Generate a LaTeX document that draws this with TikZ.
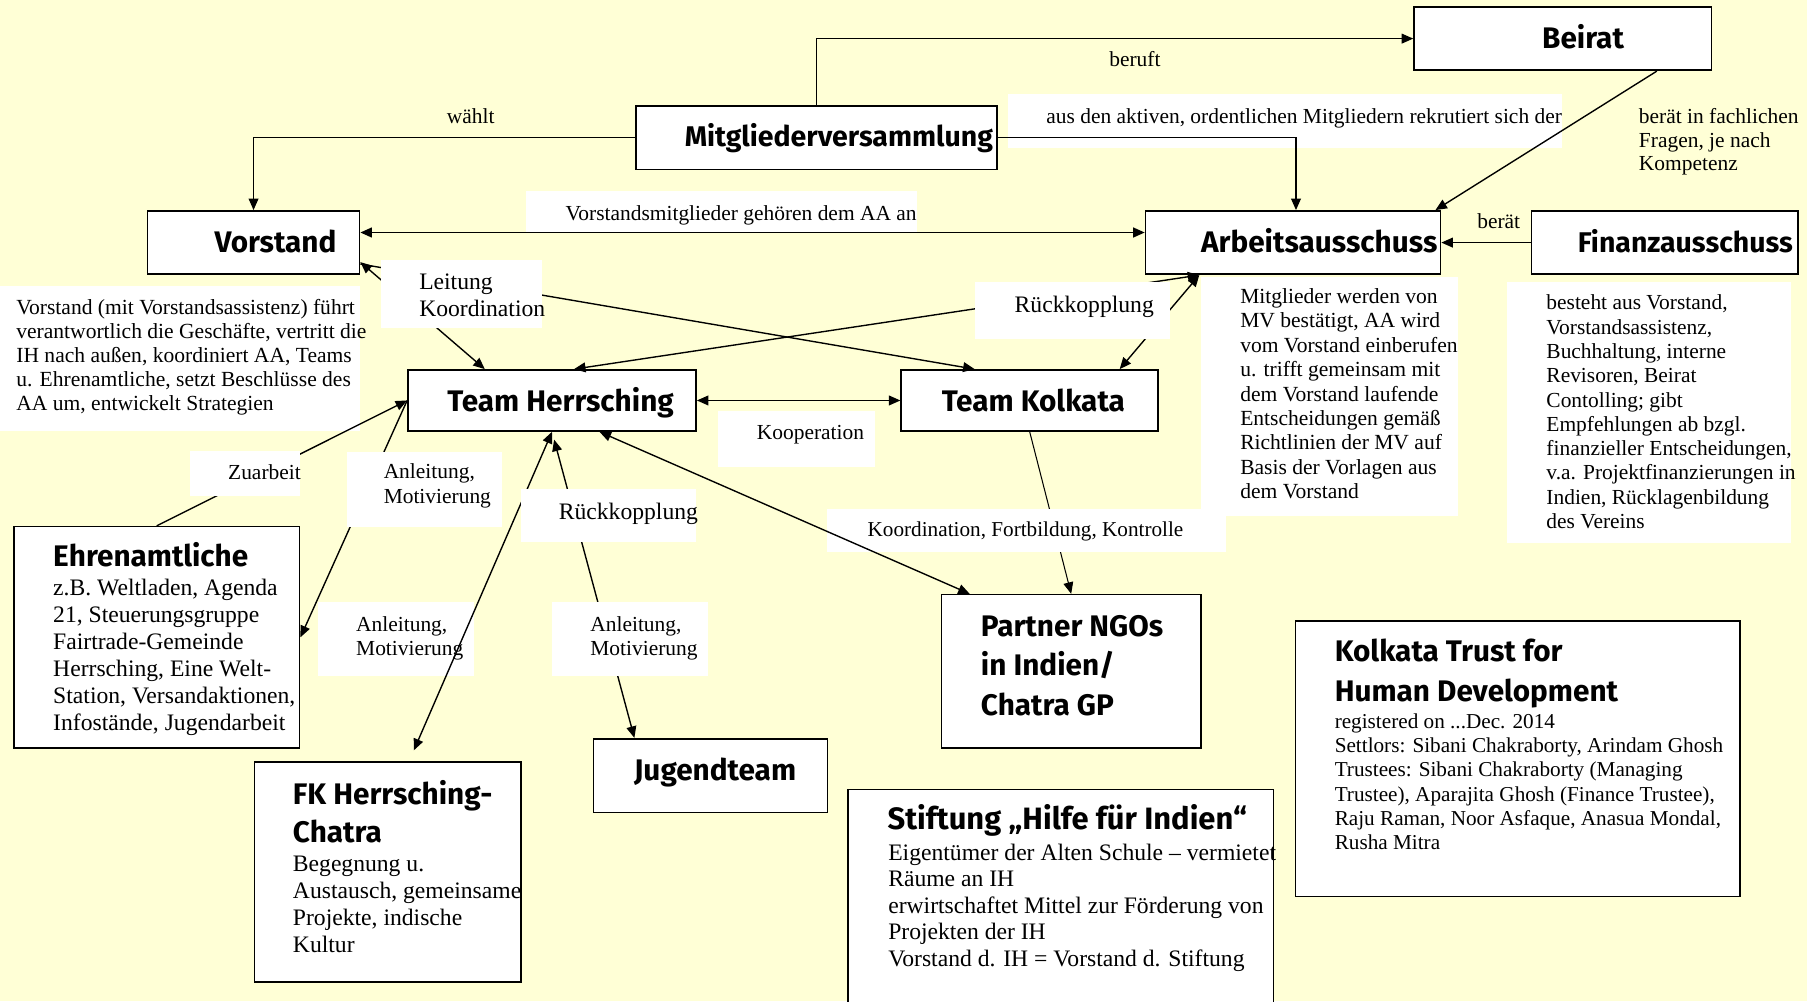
\documentclass[tikz,border=0pt]{standalone}
\usepackage{fontspec}
\setmainfont{Liberation Serif}
\newfontfamily\hdfont{Fira Sans}
\usetikzlibrary{arrows.meta,calc,fit}
\definecolor{bgyellow}{RGB}{255,255,214}
\tikzset{
  >={Triangle[length=10pt,width=8.5pt]},
  box/.style={draw=black, line width=1.4pt, fill=white, inner sep=0pt},
  wbox/.style={fill=white, draw=none, inner sep=0pt},
  arr/.style={line width=1.2pt, ->},
  darr/.style={line width=1.2pt, <->},
  hd/.style={anchor=base west, inner sep=0pt, align=left, font=\hdfont\bfseries\fontsize{25.8}{34}\selectfont},
  hdn/.style={hd, font=\hdfont\bfseries\fontsize{24.7}{34}\selectfont},
  tx/.style={anchor=base west, inner sep=0pt, align=left, font=\fontsize{18.7}{21.2}\selectfont},
  txl/.style={anchor=base west, inner sep=0pt, align=left, font=\fontsize{20.5}{23.4}\selectfont},
  lb/.style={anchor=base west, inner sep=0pt, align=left, font=\fontsize{18.6}{21.7}\selectfont},
  lbb/.style={anchor=base west, inner sep=0pt, align=left, font=\fontsize{20.5}{23.2}\selectfont},
}
\begin{document}
\begin{tikzpicture}[x=1pt,y=-1pt]
\useasboundingbox (0,0) rectangle (1568,869);
\clip (0,0) rectangle (1568,869);
\fill[bgyellow] (0,0) rectangle (1568,869);

% white label areas under connectors
\node[wbox, fit={(875,82) (1355,128)}] (l-aus) {};
\node[wbox, fit={(276,522) (411,587)}] (l-anl2) {};
\node[wbox, fit={(0,248) (312,374)}] (l-vdesc) {};
\node[wbox, fit={(1042,240) (1265,448)}] (l-aadesc) {};
\node[wbox, fit={(1308,245) (1554,471)}] (l-fadesc) {};
\node[wbox, fit={(623,357) (759,405)}] (l-koop) {};
\node[wbox, fit={(456,166) (796,201)}] (l-vmit) {};

% main boxes
\node[box, fit={(1227,6) (1485,61)}] (beirat) {};
\node[box, fit={(552,92) (865,147)}] (mv) {};
\node[box, fit={(128,183) (312,238)}] (vorstand) {};
\node[box, fit={(994,183) (1250,238)}] (aa) {};
\node[box, fit={(1329,183) (1560,238)}] (fa) {};
\node[box, fit={(354,321) (604,374)}] (th) {};
\node[box, fit={(782,321) (1005,374)}] (tk) {};
\node[box, fit={(12,457) (260,649)}] (ehren) {};
\node[box, fit={(221,661) (452,852)}] (fk) {};
\node[box, fit={(515,641) (718,705)}] (jugend) {};
\node[box, fit={(817,516) (1042,649)}] (ngo) {};
\node[box, fit={(736,685) (1105,885)}] (stift) {};
\node[box, fit={(1124,539) (1510,778)}] (trust) {};

% connectors
\draw[arr] (mv.west) -| (vorstand.north);
\draw[arr] (mv.north) |- (beirat.west);
\draw[arr] (mv.east) -| ($(aa.north west)!0.51!(aa.north east)$);
\draw[arr] ($(beirat.south west)!0.815!(beirat.south east)$) -- ($(aa.north west)!0.98!(aa.north east)$);
\draw[arr] (fa.west) -- (aa.east);
\draw[darr, line width=1.6pt] ($(vorstand.north east)!0.345!(vorstand.south east)$) -- ($(aa.north west)!0.345!(aa.south west)$);
\draw[darr] ($(vorstand.north east)!0.8!(vorstand.south east)$) -- ($(th.north west)!0.268!(th.north east)$);
\draw[arr] ($(vorstand.north east)!0.83!(vorstand.south east)$) -- ($(tk.north west)!0.287!(tk.north east)$);
\coordinate (aafb) at ($(aa.south west)!0.184!(aa.south east)$);
\draw[darr] ($(th.north west)!0.576!(th.north east)$) -- (aafb);
\draw[darr] ($(tk.north west)!0.848!(tk.north east)$) -- (aafb);
\draw[darr] (th.east) -- (tk.west);
\draw[arr] (ehren.north) -- (th.west);
\draw[arr] (th.west) -- (ehren.east);
\draw[darr, shorten >=10pt] (th.south) -- ($(fk.north west)!0.58!(fk.north east)$);
\draw[darr, shorten <=7pt] (th.south) -- ($(jugend.north west)!0.177!(jugend.north east)$);
\draw[arr, line width=0.9pt] (tk.south) -- (ngo.north);
\node[wbox, fit={(718,442) (1064,479)}] (l-koord) {};
\draw[darr] ($(th.south west)!0.664!(th.south east)$) -- ($(ngo.north west)!0.111!(ngo.north east)$);

% white label areas over connectors
\node[wbox, fit={(331,226) (470,285)}] (l-leit) {};
\node[wbox, fit={(846,245) (1015,294)}] (l-rk1) {};
\node[wbox, fit={(165,391) (260,430)}] (l-zu) {};
\node[wbox, fit={(301,392) (436,457)}] (l-anl1) {};
\node[wbox, fit={(452,424) (604,470)}] (l-rk2) {};
\node[wbox, fit={(479,522) (614,587)}] (l-anl3) {};

% headings (multi-line nodes are placed at the baseline of their last line)
\node[hd] (t-beirat) at (1338,42) {Beirat};
\node[hdn] (t-mv) at (594,127) {Mitgliederversammlung};
\node[hd] (t-vorstand) at (186,219) {Vorstand};
\node[hd] (t-aa) at (1042,219) {Arbeitsausschuss};
\node[hdn] (t-fa) at (1369,219) {Finanzausschuss};
\node[hd] (t-th) at (388,357) {Team Herrsching};
\node[hd] (t-tk) at (817,357) {Team Kolkata};
\node[hd] (t-ehren) at (46,492) {Ehrenamtliche};
\node[hd, font=\hdfont\bfseries\fontsize{25.8}{32.5}\selectfont] (t-fk) at (254,731) {FK Herrsching-\\Chatra};
\node[hd] (t-jugend) at (550,677) {Jugendteam};
\node[hd] (t-ngo) at (851,620.5) {Partner NGOs\\in Indien/\\Chatra GP};
\node[hd, font=\hdfont\bfseries\fontsize{26.8}{34}\selectfont] (t-stift) at (770,720) {Stiftung „Hilfe für Indien“};
\node[hd, font=\hdfont\bfseries\fontsize{25.8}{35}\selectfont] (t-trust) at (1158,609) {Kolkata Trust for\\Human Development};

% body texts
\node[tx, font=\fontsize{18.7}{21}\selectfont] (d-vorstand) at (14,356.5) {Vorstand (mit Vorstandsassistenz) führt\\verantwortlich die Geschäfte, vertritt die\\IH nach außen, koordiniert AA, Teams\\u. Ehrenamtliche, setzt Beschlüsse des\\AA um, entwickelt Strategien};
\node[tx] (d-aa) at (1076,432.8) {Mitglieder werden von\\MV bestätigt, AA wird\\vom Vorstand einberufen\\u. trifft gemeinsam mit\\dem Vorstand laufende\\Entscheidungen gemäß\\Richtlinien der MV auf\\Basis der Vorlagen aus\\dem Vorstand};
\node[tx, font=\fontsize{18.6}{21.06}\selectfont] (d-fa) at (1341.7,458.5) {besteht aus Vorstand,\\Vorstandsassistenz,\\Buchhaltung, interne\\Revisoren, Beirat\\Contolling; gibt\\Empfehlungen ab bzgl.\\finanzieller Entscheidungen,\\v.a. Projektfinanzierungen in\\Indien, Rücklagenbildung\\des Vereins};
\node[txl] (d-ehren) at (46,634) {z.B. Weltladen, Agenda\\21, Steuerungsgruppe\\Fairtrade-Gemeinde\\Herrsching, Eine Welt-\\Station, Versandaktionen,\\Infostände, Jugendarbeit};
\node[txl] (d-fk) at (254,826.6) {Begegnung u.\\Austausch, gemeinsame\\Projekte, indische\\Kultur};
\node[txl, font=\fontsize{20.5}{23.1}\selectfont] (d-stift) at (770.6,838.7) {Eigentümer der Alten Schule – vermietet\\Räume an IH\\erwirtschaftet Mittel zur Förderung von\\Projekten der IH\\Vorstand d. IH = Vorstand d. Stiftung};
\node[tx, font=\fontsize{18.4}{21.1}\selectfont] (d-trust) at (1158,737.5) {registered on ...Dec. 2014\\Settlors: Sibani Chakraborty, Arindam Ghosh\\Trustees: Sibani Chakraborty (Managing\\Trustee), Aparajita Ghosh (Finance Trustee),\\Raju Raman, Noor Asfaque, Anasua Mondal,\\Rusha Mitra};

% connector labels
\node[lb] (w-waehlt) at (387.6,107) {wählt};
\node[lb] (w-beruft) at (962.4,57.9) {beruft};
\node[lb] (w-aus) at (907.8,107) {aus den aktiven, ordentlichen Mitgliedern rekrutiert sich der};
\node[lb, font=\fontsize{18.6}{20.6}\selectfont] (w-beraet1) at (1422,148.2) {berät in fachlichen\\Fragen, je nach\\Kompetenz};
\node[lb] (w-beraet2) at (1281.7,198.1) {berät};
\node[lb] (w-vmit) at (490.7,191) {Vorstandsmitglieder gehören dem AA an};
\node[lbb] (w-leit) at (363.6,274.8) {Leitung\\Koordination};
\node[lbb] (w-rk1) at (880.3,271.3) {Rückkopplung};
\node[lb] (w-koop) at (656.6,381.8) {Kooperation};
\node[lb] (w-zu) at (197.8,416.5) {Zuarbeit};
\node[lb] (w-anl1) at (332.8,436.7) {Anleitung,\\Motivierung};
\node[lbb] (w-rk2) at (484.7,451.2) {Rückkopplung};
\node[lb, font=\fontsize{18.4}{21}\selectfont] (w-koord) at (752.7,465.7) {Koordination, Fortbildung, Kontrolle};
\node[lb, font=\fontsize{18.6}{20.8}\selectfont] (w-anl2) at (308.9,568.4) {Anleitung,\\Motivierung};
\node[lb, font=\fontsize{18.6}{20.8}\selectfont] (w-anl3) at (512.1,568.4) {Anleitung,\\Motivierung};
\end{tikzpicture}
\end{document}
